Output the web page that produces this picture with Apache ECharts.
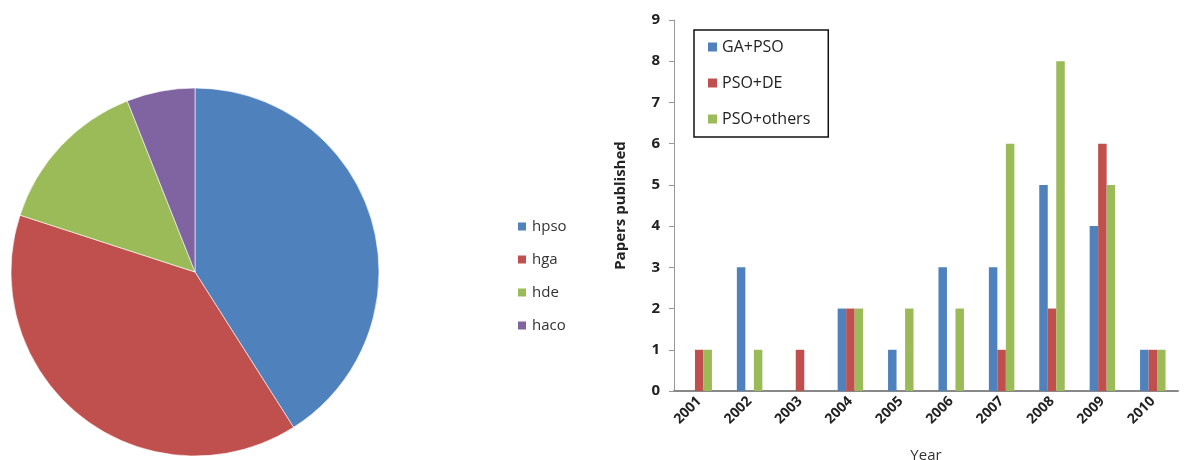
<!DOCTYPE html>
<html>
<head>
<meta charset="utf-8">
<script src="https://cdn.jsdelivr.net/npm/echarts@6/dist/echarts.min.js"></script>
<style>
html, body { margin: 0; padding: 0; background: #fff; }
#chart { width: 1188px; height: 460px; }
</style>
</head>
<body>
<div id="chart"></div>
<script>
// pie shares
const pieNames = ['hpso', 'hga', 'hde', 'haco'];
const pieValues = [41, 39, 14, 6];

// bar chart
const years = ['2001', '2002', '2003', '2004', '2005', '2006', '2007', '2008', '2009', '2010'];
const gaPso = [0, 3, 0, 2, 1, 3, 3, 5, 4, 1];
const psoDe = [1, 0, 1, 2, 0, 0, 1, 2, 6, 1];
const psoOthers = [1, 1, 0, 2, 2, 2, 6, 8, 5, 1];

const colors = ['#4F81BD', '#C0504D', '#9BBB59', '#8064A2'];
const font = '"Open Sans", "Noto Sans", sans-serif';

const myChart = echarts.init(document.getElementById('chart'));

const option = {
  animation: false,
  textStyle: { fontFamily: font },
  legend: [{
    data: pieNames,
    orient: 'vertical',
    left: 511,
    top: 214,
    itemWidth: 10,
    itemHeight: 10,
    itemGap: 18,
    icon: 'rect',
    textStyle: { fontSize: 15, color: '#333', fontFamily: font }
  }, {
    data: ['GA+PSO', 'PSO+DE', 'PSO+others'],
    orient: 'vertical',
    left: 694,
    top: 30,
    itemWidth: 9,
    itemHeight: 9,
    itemGap: 20,
    icon: 'rect',
    padding: [9, 18, 10, 14],
    borderColor: '#111',
    borderWidth: 1.5,
    textStyle: { fontSize: 16, color: '#222', fontFamily: font }
  }],
  grid: {
    left: 674,
    right: 10,
    top: 20,
    bottom: 69,
    outerBoundsMode: 'none'
  },
  xAxis: {
    type: 'category',
    data: years,
    name: 'Year',
    nameLocation: 'middle',
    nameGap: 57,
    nameTextStyle: { fontSize: 15, color: '#333', fontFamily: font },
    axisLine: { lineStyle: { color: '#888', width: 2 } },
    axisTick: { show: false },
    axisLabel: {
      rotate: 45,
      margin: 8,
      fontSize: 14,
      fontWeight: 'bold',
      color: '#222',
      fontFamily: font
    }
  },
  yAxis: {
    type: 'value',
    min: 0,
    max: 9,
    interval: 1,
    name: 'Papers published',
    nameLocation: 'middle',
    nameGap: 46,
    nameRotate: 90,
    nameTextStyle: { fontSize: 15, fontWeight: 'bold', color: '#222', fontFamily: font },
    axisLine: { show: true, lineStyle: { color: '#999', width: 1 } },
    axisTick: { show: true, length: 5, lineStyle: { color: '#999' } },
    splitLine: { show: false },
    axisLabel: {
      margin: 14,
      fontSize: 15,
      fontWeight: 'bold',
      color: '#222',
      fontFamily: font
    }
  },
  series: [{
    type: 'pie',
    center: [195, 272],
    radius: 184,
    startAngle: 90,
    clockwise: true,
    label: { show: false },
    labelLine: { show: false },
    itemStyle: { borderColor: '#fff', borderWidth: 0.6 },
    data: pieNames.map((n, i) => ({ name: n, value: pieValues[i], itemStyle: { color: colors[i] } }))
  }, {
    type: 'bar',
    name: 'GA+PSO',
    data: gaPso,
    itemStyle: { color: colors[0] },
    barWidth: 8.5,
    barGap: '0%'
  }, {
    type: 'bar',
    name: 'PSO+DE',
    data: psoDe,
    itemStyle: { color: colors[1] },
    barWidth: 8.5,
    barGap: '0%'
  }, {
    type: 'bar',
    name: 'PSO+others',
    data: psoOthers,
    itemStyle: { color: colors[2] },
    barWidth: 8.5,
    barGap: '0%'
  }]
};

myChart.setOption(option);
</script>
</body>
</html>
